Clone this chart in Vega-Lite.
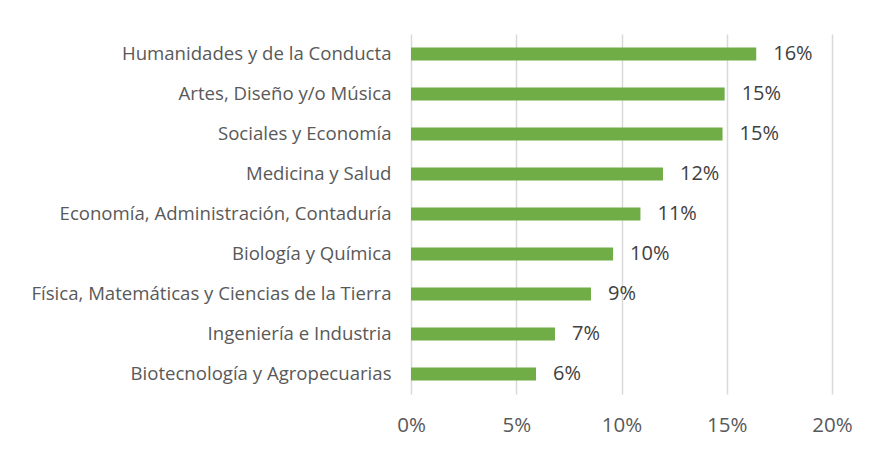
{
  "$schema": "https://vega.github.io/schema/vega-lite/v6.json",
  "width": 421,
  "height": 360,
  "autosize": {"type": "none"},
  "padding": {"left": 411, "top": 34, "right": 38, "bottom": 59},
  "background": "white",
  "config": {
    "view": {"stroke": null},
    "font": "Open Sans"
  },
  "data": {
    "values": [
      {"area": "Humanidades y de la Conducta", "valor": 0.164},
      {"area": "Artes, Diseño y/o Música", "valor": 0.149},
      {"area": "Sociales y Economía", "valor": 0.148},
      {"area": "Medicina y Salud", "valor": 0.1197},
      {"area": "Economía, Administración, Contaduría", "valor": 0.109},
      {"area": "Biología y Química", "valor": 0.096},
      {"area": "Física, Matemáticas y Ciencias de la Tierra", "valor": 0.0855},
      {"area": "Ingeniería e Industria", "valor": 0.0684},
      {"area": "Biotecnología y Agropecuarias", "valor": 0.0594}
    ]
  },
  "encoding": {
    "y": {
      "field": "area",
      "type": "nominal",
      "sort": null,
      "scale": {"paddingInner": 0.675, "paddingOuter": 0.3375},
      "axis": {
        "title": null,
        "domain": false,
        "ticks": false,
        "labelPadding": 20,
        "labelFontSize": 18.6,
        "labelColor": "#595959",
        "labelFont": "Open Sans",
        "labelLimit": 500
      }
    },
    "x": {
      "field": "valor",
      "type": "quantitative",
      "scale": {"domain": [0, 0.2], "nice": false},
      "axis": {
        "title": null,
        "format": ".0%",
        "values": [0, 0.05, 0.1, 0.15, 0.2],
        "domain": false,
        "ticks": false,
        "grid": true,
        "gridColor": "#d9d9d9",
        "gridWidth": 1.5,
        "labelFlush": false,
        "labelBound": false,
        "labelOverlap": false,
        "labelPadding": 21,
        "labelFontSize": 20.5,
        "labelColor": "#595959",
        "labelFont": "Open Sans"
      }
    }
  },
  "layer": [
    {"mark": {"type": "bar", "color": "#70AD47"}},
    {
      "mark": {"type": "text", "align": "left", "baseline": "middle", "dx": 17, "fontSize": 20, "color": "#404040", "font": "Open Sans"},
      "encoding": {"text": {"field": "valor", "type": "quantitative", "format": ".0%"}}
    }
  ]
}
